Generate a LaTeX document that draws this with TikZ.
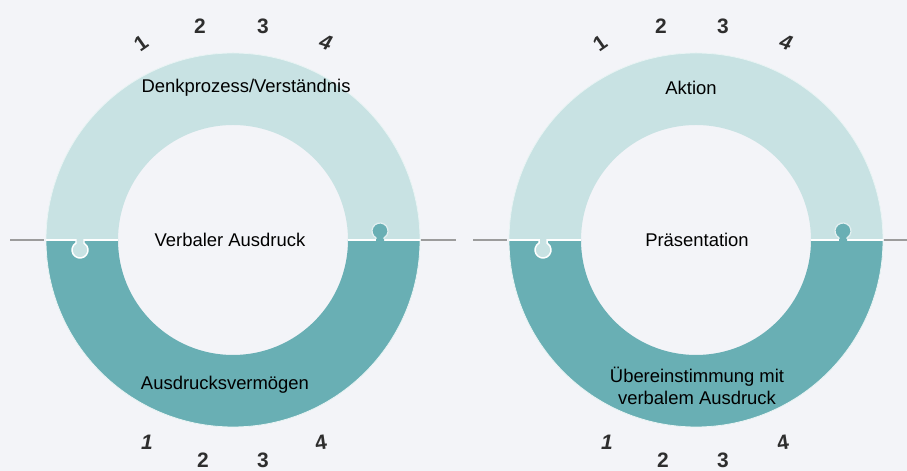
\documentclass[tikz,border=0pt]{standalone}
\usepackage{fontspec}
\setmainfont{Liberation Sans}
\definecolor{bgc}{HTML}{F3F4F8}
\definecolor{lightteal}{HTML}{C8E2E3}
\definecolor{darkteal}{HTML}{69AFB4}
\definecolor{splitgray}{HTML}{9C9C9C}
\definecolor{digitc}{HTML}{2E2E2E}
\tikzset{
  lbl/.style={font=\fontsize{18.5}{22}\selectfont, text=black, inner sep=0pt, align=center},
  digit/.style={font=\fontsize{21}{21}\selectfont\bfseries, text=digitc, inner sep=0pt},
  digitit/.style={font=\fontsize{21}{21}\selectfont\bfseries\itshape, text=digitc, inner sep=0pt},
  sepline/.style={draw=splitgray, line width=1.4pt},
  seam/.style={draw=white, line width=1.6pt},
}
% ring with puzzle knobs: #1 = center x, #2 = center y
\newcommand{\myring}[2]{%
  \begin{scope}[shift={(#1,#2)}]
    \fill[lightteal] (187,0) arc[start angle=0,end angle=180,radius=187] -- (-115,0) arc[start angle=180,end angle=0,radius=115] -- cycle;
    \fill[darkteal] (-187,0) arc[start angle=180,end angle=360,radius=187] -- (115,0) arc[start angle=0,end angle=-180,radius=115] -- cycle;
    \draw[white!60!lightteal, line width=0.8pt] (0,0) circle[radius=187];
    \draw[seam] (-187,0) -- (-115,0);
    \draw[seam] (115,0) -- (187,0);
    % light knob downward (left)
    \fill[lightteal] (-157,1) -- (-157,-3.07) arc[start angle=120,end angle=420,radius=8] -- (-149,1) -- cycle;
    \draw[white, line width=1.5pt] (-165,0) -- (-157,0) -- (-157,-3.07) arc[start angle=120,end angle=420,radius=8] -- (-149,0) -- (-141,0);
    % dark knob upward (right)
    \fill[darkteal] (143,-1) -- (143,2.07) arc[start angle=240,end angle=-60,radius=8] -- (151,-1) -- cycle;
    \draw[white!50!lightteal, line width=1.2pt] (143,1) -- (143,2.07) arc[start angle=240,end angle=-60,radius=8] -- (151,1);
  \end{scope}}
\begin{document}
\begin{tikzpicture}[x=1bp,y=1bp]
  \fill[bgc] (0,0) rectangle (907,471);
  \useasboundingbox (0,0) rectangle (907,471);

  \myring{233}{231}
  \myring{696}{231}

  % split lines
  \coordinate (la1) at (10,231);  \coordinate (la2) at (44,231);
  \coordinate (lb1) at (421,231); \coordinate (lb2) at (456,231);
  \coordinate (ra1) at (473,231); \coordinate (ra2) at (507,231);
  \coordinate (rb1) at (884,231); \coordinate (rb2) at (907,231);
  \draw[sepline] (la1) -- (la2);
  \draw[sepline] (lb1) -- (lb2);
  \draw[sepline] (ra1) -- (ra2);
  \draw[sepline] (rb1) -- (rb2);

  % labels left ring
  \node[lbl] (l1) at (246,383) {Denkprozess/Verständnis};
  \node[lbl] (l2) at (230,231) {Verbaler Ausdruck};
  \node[lbl] (l3) at (225,86) {Ausdrucksvermögen};
  % labels right ring
  \node[lbl] (r1) at (691,383) {Aktion};
  \node[lbl] (r2) at (697,231) {Präsentation};
  \node[lbl] (r3) at (697,85) {Übereinstimmung mit\\verbalem Ausdruck};

  % digits left ring
  \node[digit, rotate=35] (lt1) at (141,428) {1};
  \node[digit] (lt2) at (200,445) {2};
  \node[digit] (lt3) at (263,445) {3};
  \node[digitit, rotate=-18] (lt4) at (326,429) {4};
  \node[digitit] (lb1n) at (147,29) {1};
  \node[digit] (lb2n) at (203,11) {2};
  \node[digit] (lb3n) at (263,11) {3};
  \node[digit, rotate=8] (lb4n) at (321,28) {4};
  % digits right ring
  \node[digit, rotate=35] (rt1) at (600,428) {1};
  \node[digit] (rt2) at (661,445) {2};
  \node[digit] (rt3) at (723,445) {3};
  \node[digitit, rotate=-18] (rt4) at (786,429) {4};
  \node[digitit] (rb1n) at (607,29) {1};
  \node[digit] (rb2n) at (663,11) {2};
  \node[digit] (rb3n) at (723,11) {3};
  \node[digit, rotate=8] (rb4n) at (783,28) {4};
\end{tikzpicture}
\end{document}
